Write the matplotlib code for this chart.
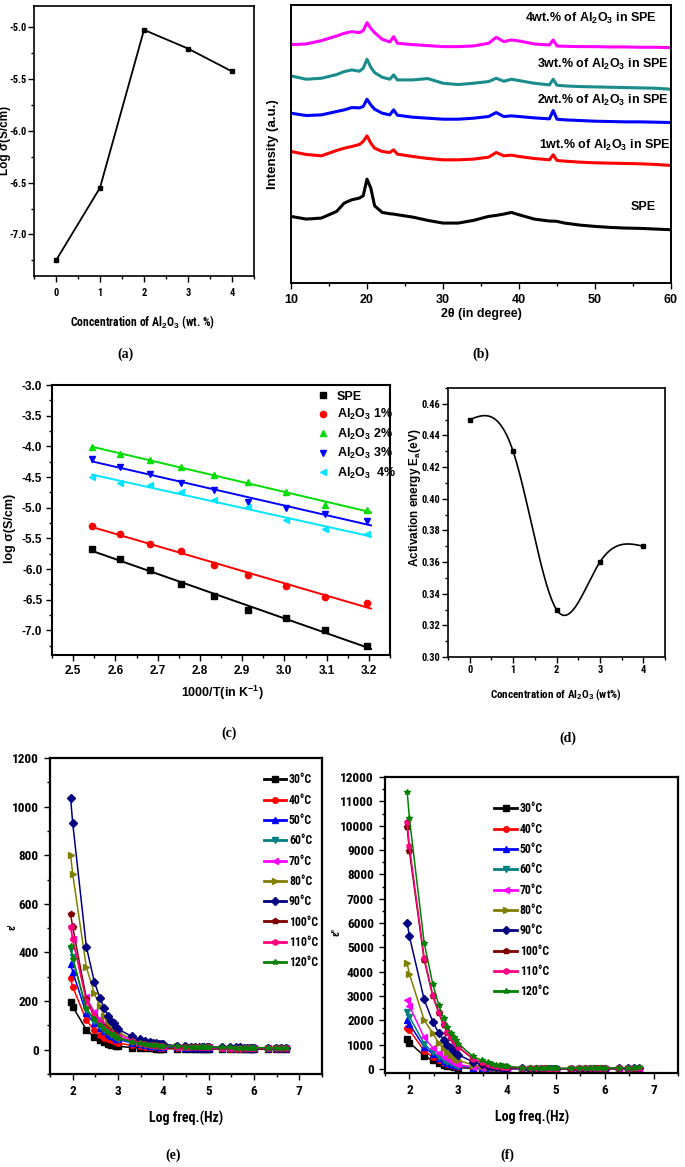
import numpy as np
import matplotlib.pyplot as plt
import matplotlib.ticker as ticker
from matplotlib import font_manager

# (a) conductivity vs Al2O3 content
conc = [0, 1, 2, 3, 4]
log_sigma = [-7.25, -6.55, -5.03, -5.21, -5.43]

# (b) XRD traces (intensity in arbitrary units)
two_theta = [10, 12, 14, 16, 17, 18, 19, 19.5, 20, 20.5, 21, 22, 23, 23.5, 24,
             26, 28, 30, 32, 34, 36, 37, 38, 39, 40, 42, 44, 44.5, 45, 46,
             48, 50, 52, 54, 56, 58, 60]
xrd_spe = [200, 192, 195, 215, 240, 250, 255, 262, 312, 285, 232, 212, 208, 207, 205,
           198, 188, 180, 180, 188, 200, 203, 207, 212, 205, 192, 186, 186, 185, 180,
           174, 170, 167, 165, 164, 162, 160]
xrd_1 = [395, 386, 382, 398, 405, 410, 416, 425, 442, 420, 405, 395, 392, 400, 387,
         380, 374, 370, 370, 372, 378, 392, 382, 384, 380, 374, 370, 385, 368, 366,
         363, 361, 360, 359, 358, 356, 353]
xrd_2 = [510, 503, 505, 515, 520, 527, 526, 530, 552, 535, 522, 510, 505, 520, 504,
         498, 495, 492, 492, 495, 500, 512, 500, 502, 500, 496, 493, 518, 492, 490,
         488, 486, 485, 484, 484, 483, 482]
xrd_3 = [622, 612, 615, 626, 635, 640, 636, 645, 672, 648, 632, 618, 612, 625, 610,
         610, 614, 600, 596, 600, 605, 615, 606, 612, 608, 600, 595, 612, 594, 592,
         590, 589, 588, 587, 586, 585, 582]
xrd_4 = [716, 718, 728, 742, 750, 755, 752, 758, 782, 765, 752, 732, 724, 740, 720,
         716, 713, 710, 710, 712, 720, 738, 725, 730, 727, 718, 715, 730, 712, 711,
         710, 710, 709, 709, 708, 708, 707]
xrd_names = ['SPE', '1wt.% of Al$_2$O$_3$ in SPE', '2wt.% of Al$_2$O$_3$ in SPE',
             '3wt.% of Al$_2$O$_3$ in SPE', '4wt.% of Al$_2$O$_3$ in SPE']

# (c) Arrhenius data
inv_T = [2.545, 2.611, 2.681, 2.755, 2.833, 2.915, 3.003, 3.096, 3.195]
arr_spe = [-5.68, -5.83, -6.02, -6.24, -6.44, -6.67, -6.80, -7.00, -7.25]
arr_1 = [-5.30, -5.43, -5.59, -5.71, -5.93, -6.09, -6.28, -6.45, -6.55]
arr_2 = [-4.01, -4.13, -4.22, -4.34, -4.46, -4.58, -4.74, -4.96, -5.03]
arr_3 = [-4.21, -4.34, -4.45, -4.59, -4.71, -4.90, -5.00, -5.11, -5.21]
arr_4 = [-4.50, -4.59, -4.63, -4.74, -4.88, -4.99, -5.20, -5.35, -5.43]
arr_names = ['SPE', 'Al$_2$O$_3$ 1%', 'Al$_2$O$_3$ 2%', 'Al$_2$O$_3$ 3%', 'Al$_2$O$_3$  4%']

# (d) activation energy
ea = [0.45, 0.43, 0.33, 0.36, 0.37]

# (e), (f) dielectric data
freq_hz = [90, 100, 200, 300, 400, 500, 600, 700, 800, 900,
           1e3, 2e3, 3e3, 4e3, 5e3, 6e3, 7e3, 8e3, 9e3,
           1e4, 2e4, 3e4, 4e4, 5e4, 6e4, 7e4, 8e4, 9e4,
           1e5, 2e5, 3e5, 4e5, 5e5, 6e5, 7e5, 8e5, 9e5,
           1e6, 2e6, 3e6, 4e6, 5e6]
temps = ['30°C', '40°C', '50°C', '60°C', '70°C', '80°C', '90°C', '100°C', '110°C', '120°C']

e30 = [197, 177, 83, 52, 39, 30, 25, 21, 18, 16,
       14, 9, 7, 6, 5.5, 5, 4.8, 4.6, 4.4,
       4.2, 3.8, 3.6, 3.5, 3.4, 3.3, 3.2, 3.1, 3.0,
       3.0, 2.8, 2.7, 2.6, 2.6, 2.5, 2.5, 2.4, 2.4,
       2.3, 2.2, 2.1, 2.1, 2.0]
e40 = [294, 259, 121, 80, 59, 50, 44, 38, 34, 30,
       27, 18, 14, 12, 11, 10, 9.5, 9, 8.6,
       8.3, 7, 6.5, 6.2, 6, 5.8, 5.6, 5.5, 5.4,
       5.3, 5, 4.8, 4.7, 4.6, 4.5, 4.4, 4.4, 4.3,
       4.2, 4, 3.9, 3.8, 3.8]
e50 = [353, 321, 149, 108, 88, 75, 65, 57, 51, 46,
       42, 28, 22, 18, 16, 15, 14, 13, 12.5,
       12, 10, 9, 8.5, 8.2, 8, 7.8, 7.6, 7.5,
       7.4, 7, 6.7, 6.5, 6.4, 6.3, 6.2, 6.1, 6,
       5.9, 5.6, 5.4, 5.3, 5.2]
e60 = [413, 380, 165, 120, 98, 82, 71, 62, 56, 51,
       46, 30, 24, 20, 18, 16, 15, 14, 13.5,
       13, 11, 10, 9.4, 9, 8.7, 8.5, 8.3, 8.1,
       8, 7.5, 7.2, 7, 6.9, 6.8, 6.7, 6.6, 6.5,
       6.4, 6.1, 5.9, 5.8, 5.7]
e70 = [510, 455, 215, 155, 125, 105, 92, 82, 75, 68,
       62, 40, 31, 26, 23, 21, 19, 18, 17,
       16, 13, 12, 11, 10.5, 10, 9.7, 9.5, 9.3,
       9.1, 8.5, 8.2, 8, 7.8, 7.7, 7.6, 7.5, 7.4,
       7.3, 7, 6.8, 6.6, 6.5]
e80 = [802, 723, 340, 232, 178, 140, 118, 100, 90, 80,
       72, 45, 35, 28, 24, 22, 20, 19, 18,
       17, 14, 12.5, 11.5, 11, 10.5, 10.2, 10, 9.8,
       9.6, 9, 8.6, 8.4, 8.2, 8, 7.9, 7.8, 7.7,
       7.6, 7.2, 7, 6.8, 6.7]
e90 = [1035, 934, 424, 280, 212, 170, 140, 120, 108, 95,
       85, 55, 42, 35, 32, 28, 26, 25, 24,
       22, 16, 14, 13, 12.5, 12, 11.6, 11.3, 11,
       10.8, 10, 9.6, 9.3, 9.1, 9, 8.8, 8.7, 8.6,
       8.5, 8, 7.8, 7.6, 7.5]
e100 = [558, 506, 210, 140, 110, 92, 80, 70, 63, 57,
        52, 34, 27, 23, 21, 19, 18, 17, 16,
        15.5, 13, 12, 11, 10.5, 10, 9.7, 9.5, 9.3,
        9.1, 8.6, 8.2, 8, 7.8, 7.7, 7.6, 7.5, 7.4,
        7.3, 7, 6.8, 6.6, 6.5]
e110 = [505, 455, 200, 138, 108, 90, 78, 69, 62, 56,
        51, 34, 27, 23, 21, 19, 18, 17, 16,
        15.5, 13, 12, 11, 10.5, 10, 9.7, 9.5, 9.3,
        9.1, 8.6, 8.2, 8, 7.8, 7.7, 7.6, 7.5, 7.4,
        7.3, 7, 6.8, 6.6, 6.5]
e120 = [428, 375, 170, 125, 100, 85, 74, 66, 60, 54,
        49, 33, 27, 23, 21, 19, 18, 17, 16.5,
        16, 14, 13, 12, 11.5, 11, 10.7, 10.5, 10.3,
        10, 9.5, 9.2, 9, 8.8, 8.7, 8.6, 8.5, 8.4,
        8.3, 8, 7.8, 7.6, 7.5]

f30 = [1228, 1090, 545, 355, 245, 180, 140, 110, 90, 75,
       62, 30, 20, 15, 12, 10, 9, 8, 7,
       6, 4, 3, 3, 2, 2, 2, 2, 2,
       2, 2, 2, 2, 2, 2, 2, 2, 2,
       2, 2, 2, 2, 2]
f40 = [1705, 1600, 760, 500, 360, 270, 210, 170, 140, 118,
       100, 48, 32, 24, 19, 16, 14, 12, 11,
       10, 6, 5, 4, 4, 3.5, 3.5, 3, 3,
       3, 3, 3, 3, 3.5, 4, 4, 4.5, 5,
       5, 6, 7, 8, 9]
f50 = [2020, 1850, 920, 620, 450, 340, 265, 215, 178, 150,
       128, 60, 40, 30, 24, 20, 17, 15, 14,
       12, 8, 6, 5, 5, 4.5, 4.5, 4, 4,
       4, 4, 4, 4.5, 5, 5, 5.5, 6, 6,
       7, 8, 9, 10, 11]
f60 = [2350, 2150, 1050, 700, 510, 385, 300, 245, 205, 172,
       146, 70, 46, 34, 27, 23, 20, 18, 16,
       14, 9, 7, 6, 5.5, 5, 5, 5, 5,
       5, 5, 5, 5.5, 6, 6, 6.5, 7, 7,
       8, 9, 10, 11, 12]
f70 = [2840, 2600, 1300, 880, 650, 500, 395, 320, 265, 225,
       190, 90, 60, 45, 36, 30, 26, 23, 21,
       19, 12, 9, 8, 7, 7, 6.5, 6.5, 6.5,
       6.5, 7, 7, 7.5, 8, 8, 9, 9, 10,
       10, 12, 13, 14, 15]
f80 = [4340, 3900, 2020, 1470, 1080, 850, 690, 570, 480, 410,
       355, 170, 110, 82, 66, 55, 47, 42, 38,
       34, 20, 15, 13, 12, 11, 11, 10, 10,
       10, 10, 11, 11, 12, 12, 13, 14, 14,
       15, 17, 19, 21, 22]
f90 = [6015, 5456, 2864, 1950, 1473, 1200, 1000, 850, 750, 680,
       590, 300, 190, 140, 110, 92, 80, 70, 62,
       56, 32, 24, 20, 18, 17, 16, 15, 15,
       15, 15, 16, 17, 18, 19, 20, 21, 22,
       23, 26, 29, 32, 34]
f100 = [9950, 8940, 4500, 3000, 2300, 1800, 1500, 1280, 1150, 1020,
        900, 420, 270, 200, 160, 135, 118, 104, 94,
        85, 48, 36, 30, 27, 25, 24, 23, 23,
        23, 24, 26, 28, 30, 32, 34, 36, 38,
        40, 46, 52, 58, 62]
f110 = [10150, 9150, 4580, 3050, 2350, 1850, 1540, 1310, 1170, 1040,
        920, 430, 278, 206, 165, 139, 121, 107, 97,
        88, 50, 38, 32, 28, 26, 25, 24, 24,
        24, 25, 27, 29, 31, 33, 35, 37, 39,
        41, 47, 53, 59, 63]
f120 = [11400, 10300, 5200, 3500, 2620, 2100, 1750, 1480, 1320, 1180,
        1050, 520, 360, 280, 220, 180, 160, 140, 130,
        110, 60, 45, 38, 34, 31, 29, 28, 27,
        27, 28, 30, 32, 34, 36, 38, 40, 42,
        44, 50, 56, 62, 66]

eps1 = [e30, e40, e50, e60, e70, e80, e90, e100, e110, e120]
eps2 = [f30, f40, f50, f60, f70, f80, f90, f100, f110, f120]

# ---------------------------------------------------------------- style
names = {f.name for f in font_manager.fontManager.ttflist}
NARROW = 'Liberation Sans'
for cand in ['Liberation Sans Narrow', 'DejaVu Sans Condensed', 'Roboto Condensed',
             'Open Sans Condensed']:
    if cand in names:
        NARROW = cand
        break
SERIF = 'Liberation Serif'

plt.rcParams['font.family'] = ['Liberation Sans', 'DejaVu Sans']
plt.rcParams['font.weight'] = 'bold'
plt.rcParams['mathtext.fontset'] = 'custom'
plt.rcParams['mathtext.rm'] = 'Liberation Sans:bold'
plt.rcParams['mathtext.default'] = 'rm'

T_COLORS = ['black', '#FF0000', '#0000FF', '#008080', '#FF00FF',
            '#808000', '#000080', '#800000', '#FF0080', '#008000']
T_MARKERS = ['s', 'o', '^', 'v', '<', '>', 'D', 'p', 'h', '*']

W, H = 685, 1167
fig = plt.figure(figsize=(W / 100, H / 100), dpi=100)


def panel(l, t, r, b, lw=1.3, pad=3):
    ax = fig.add_axes([l / W, 1 - b / H, (r - l) / W, (b - t) / H])
    for s in ax.spines.values():
        s.set_linewidth(lw)
    ax.tick_params(which='both', direction='out', top=False, right=False, width=1, pad=pad)
    ax.tick_params(which='major', length=4)
    ax.tick_params(which='minor', length=2)
    return ax


def label(px, py, s, **kw):
    fig.text(px / W, 1 - py / H, s, ha='center', va='center', **kw)


# ---------------------------------------------------------------- (a)
ax = panel(34, 6, 254, 276, lw=1.2, pad=1)
ax.plot(conc, log_sigma, color='black', lw=1.3, marker='s', ms=3.5)
ax.set_xlim(-0.5, 4.5)
ax.set_ylim(-7.4, -4.8)
ax.xaxis.set_major_locator(ticker.MultipleLocator(1))
ax.xaxis.set_minor_locator(ticker.MultipleLocator(0.5))
ax.yaxis.set_major_locator(ticker.MultipleLocator(0.5))
ax.yaxis.set_minor_locator(ticker.MultipleLocator(0.25))
ax.yaxis.set_major_formatter(ticker.FormatStrFormatter('%.1f'))
ax.tick_params(labelsize=7.5, labelfontfamily=NARROW)
ax.tick_params(axis='x', pad=5)
label(5, 140, 'Log σ(S/cm)', rotation=90, fontsize=8.5)
label(143, 322, 'Concentration of Al$_2$O$_3$ (wt. %)', fontsize=8.5, family=NARROW)
label(125, 354, '(a)', fontsize=10, family=SERIF)

# ---------------------------------------------------------------- (b)
ax = panel(291, 5, 671, 283, lw=1.4, pad=4)
xrd = [xrd_spe, xrd_1, xrd_2, xrd_3, xrd_4]
xrd_colors = ['black', '#FF0000', '#0000FF', '#1A8C8C', '#FF00FF']
xrd_label_x = [58.0, 60.0, 59.7, 59.7, 58.1]
xrd_label_y = [227, 413, 548, 655, 795]
for ys, c, lx, ly, nm in zip(xrd, xrd_colors, xrd_label_x, xrd_label_y, xrd_names):
    ax.plot(two_theta, ys, color=c, lw=2.2)
    ax.text(lx, ly, nm, ha='right', va='center', fontsize=9)
ax.set_xlim(10, 60)
ax.set_ylim(0, 835)
ax.set_yticks([])
ax.xaxis.set_major_locator(ticker.MultipleLocator(10))
ax.xaxis.set_minor_locator(ticker.MultipleLocator(5))
ax.tick_params(labelsize=9)
label(481, 314, '2θ (in degree)', fontsize=9)
label(273, 144, 'Intensity (a.u.)', rotation=90, fontsize=9.5)
label(481, 354, '(b)', fontsize=10, family=SERIF)

# ---------------------------------------------------------------- (c)
ax = panel(52, 385, 390, 655, lw=1.5, pad=3)
arr = [arr_spe, arr_1, arr_2, arr_3, arr_4]
arr_colors = ['black', '#FF0000', '#00DD00', '#0000FF', '#00E5FF']
arr_markers = ['s', 'o', '^', 'v', '<']
xs = np.array([min(inv_T), max(inv_T) + 0.01])
for ys, c, m, nm in zip(arr, arr_colors, arr_markers, arr_names):
    k, b = np.polyfit(inv_T, ys, 1)
    ax.plot(xs, k * xs + b, color=c, lw=1.4)
    ax.plot(inv_T, ys, ls='none', marker=m, color=c, ms=4.5, label=nm)
ax.set_xlim(2.45, 3.25)
ax.set_ylim(-7.4, -3.0)
ax.xaxis.set_major_locator(ticker.MultipleLocator(0.1))
ax.xaxis.set_minor_locator(ticker.MultipleLocator(0.05))
ax.yaxis.set_major_locator(ticker.MultipleLocator(0.5))
ax.yaxis.set_minor_locator(ticker.MultipleLocator(0.25))
ax.xaxis.set_major_formatter(ticker.FormatStrFormatter('%.1f'))
ax.yaxis.set_major_formatter(ticker.FormatStrFormatter('%.1f'))
ax.tick_params(labelsize=8.5)
ax.legend(loc='upper left', bbox_to_anchor=(0.75, 1.02), frameon=False, fontsize=9,
          handlelength=1.0, handletextpad=0.6, labelspacing=0.35, borderpad=0.4)
label(10, 528, 'log σ(S/cm)', rotation=90, fontsize=9)
label(222, 693, '1000/T(in K$^{-1}$)', fontsize=9)
label(229, 733, '(c)', fontsize=10, family=SERIF)


# ---------------------------------------------------------------- (d)
def natural_spline(x, y, xq):
    x = np.asarray(x, float)
    y = np.asarray(y, float)
    n = len(x)
    h = np.diff(x)
    A = np.zeros((n, n))
    r = np.zeros(n)
    A[0, 0] = A[-1, -1] = 1
    for i in range(1, n - 1):
        A[i, i - 1] = h[i - 1]
        A[i, i] = 2 * (h[i - 1] + h[i])
        A[i, i + 1] = h[i]
        r[i] = 6 * ((y[i + 1] - y[i]) / h[i] - (y[i] - y[i - 1]) / h[i - 1])
    M = np.linalg.solve(A, r)
    j = np.clip(np.searchsorted(x, xq) - 1, 0, n - 2)
    hh = x[j + 1] - x[j]
    a = (x[j + 1] - xq) / hh
    bb = (xq - x[j]) / hh
    return a * y[j] + bb * y[j + 1] + ((a ** 3 - a) * M[j] + (bb ** 3 - bb) * M[j + 1]) * hh ** 2 / 6


ax = panel(448, 388, 665, 657, lw=1.2, pad=1.5)
xq = np.linspace(min(conc), max(conc), 300)
ax.plot(xq, natural_spline(conc, ea, xq), color='black', lw=1.2)
ax.plot(conc, ea, ls='none', marker='s', color='black', ms=3.5)
ax.set_xlim(-0.5, 4.5)
ax.set_ylim(0.30, 0.47)
ax.xaxis.set_major_locator(ticker.MultipleLocator(1))
ax.xaxis.set_minor_locator(ticker.MultipleLocator(0.5))
ax.yaxis.set_major_locator(ticker.MultipleLocator(0.02))
ax.yaxis.set_minor_locator(ticker.MultipleLocator(0.01))
ax.yaxis.set_major_formatter(ticker.FormatStrFormatter('%.2f'))
ax.tick_params(labelsize=7.5, labelfontfamily=NARROW)
label(415, 498, 'Activation energy E$_a$(eV)', rotation=90, fontsize=8.5)
label(556, 695, 'Concentration of Al$_2$O$_3$ (wt%)', fontsize=8, family=NARROW)
label(568, 738, '(d)', fontsize=10, family=SERIF)

# ---------------------------------------------------------------- (e), (f)
logf = np.log10(freq_hz)


def dielectric(ax, data, ylim, step, anchor, ylab, ylab_xy):
    for ys, c, m, t in zip(data, T_COLORS, T_MARKERS, temps):
        ax.plot(logf, ys, color=c, marker=m, ms=4, lw=1.1, label=t)
    ax.set_xlim(1.5, 7.5)
    ax.set_ylim(*ylim)
    ax.xaxis.set_major_locator(ticker.MultipleLocator(1))
    ax.xaxis.set_minor_locator(ticker.MultipleLocator(0.5))
    ax.yaxis.set_major_locator(ticker.MultipleLocator(step))
    ax.yaxis.set_minor_locator(ticker.MultipleLocator(step / 2))
    ax.tick_params(labelsize=9.5, labelfontfamily=NARROW)
    leg = ax.legend(loc='upper left', bbox_to_anchor=anchor, frameon=False,
                    prop={'family': NARROW, 'size': 8.5, 'weight': 'bold'},
                    handlelength=1.9, handletextpad=0.25, labelspacing=0.62, borderpad=0.4)
    for ln in leg.get_lines():
        ln.set_linewidth(2)
    label(ylab_xy[0], ylab_xy[1], ylab, rotation=90, fontsize=7, family=NARROW)


ax = panel(50, 758, 322, 1074, lw=1.6, pad=4)
dielectric(ax, eps1, (-100, 1200), 200, (0.746, 0.985), "ε'", (12, 927))
label(186, 1118, 'Log freq.(Hz)', fontsize=10, family=NARROW)
label(173, 1155, '(e)', fontsize=10, family=SERIF)

ax = panel(385, 777, 678, 1073, lw=1.6, pad=4)
dielectric(ax, eps2, (-160, 12000), 1000, (0.337, 0.95), "ε''", (337, 932))
label(532, 1117, 'Log freq.(Hz)', fontsize=10, family=NARROW)
label(507, 1155, '(f)', fontsize=10, family=SERIF)

fig.savefig('out.png', dpi=100)
